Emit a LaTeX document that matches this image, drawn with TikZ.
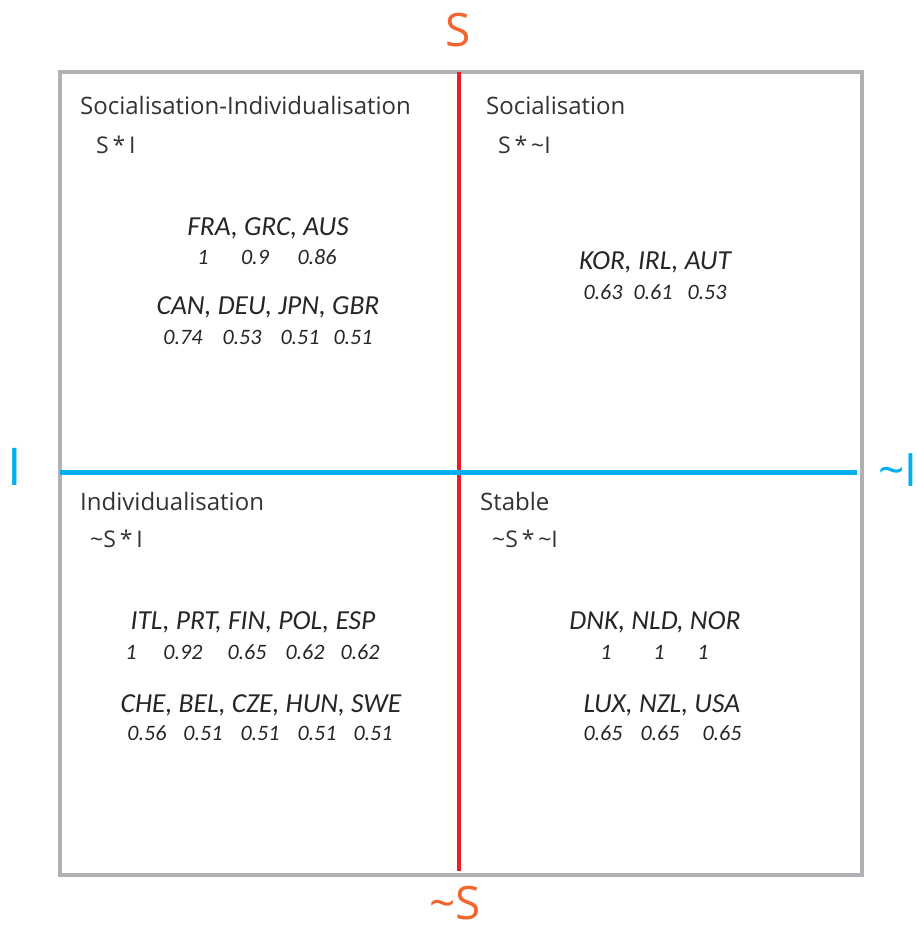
\documentclass[tikz,border=0pt]{standalone}
\usepackage{fontspec}
\setmainfont{Carlito}
\newfontfamily\headfont{Open Sans}
\definecolor{framegray}{HTML}{B0B0B5}
\definecolor{axisred}{HTML}{EE1C25}
\definecolor{axisblue}{HTML}{00B0F0}
\definecolor{labelorange}{HTML}{F26531}
\definecolor{textdark}{HTML}{262626}
\definecolor{headdark}{HTML}{333333}
\begin{document}
\begin{tikzpicture}[x=1pt,y=-1pt,
  quadtitle/.style={anchor=west, inner sep=0pt, text=headdark, font=\headfont\fontsize{24}{28}\selectfont},
  quadformula/.style={anchor=west, inner sep=0pt, text=headdark, font=\headfont\fontsize{23}{26}\selectfont},
  countries/.style={inner sep=0pt, text=textdark, font=\itshape\fontsize{27.5}{31}\selectfont},
  score/.style={inner sep=0pt, text=textdark, font=\itshape\fontsize{22}{25}\selectfont},
  axislabel/.style={inner sep=0pt, font=\headfont\fontsize{46}{52}\selectfont}]
\useasboundingbox (0,0) rectangle (916,929);
\fill[white] (0,0) rectangle (916,929);

% outer frame
\node[draw=framegray, line width=4pt, minimum width=802pt, minimum height=803pt,
      anchor=north west, inner sep=0pt] (frame) at (58,70) {};

% axes
\coordinate (stop) at (459,72);
\coordinate (sbot) at (459,871);
\coordinate (ileft) at (60,472);
\coordinate (iright) at (857,472);
\draw[axisred, line width=4.5pt] (stop) -- (sbot);
\draw[axisblue, line width=5pt] (ileft) -- (iright);

% axis labels
\node[axislabel, text=labelorange] (labS) at (458,30) {S};
\node[axislabel, text=labelorange] (labnotS) at (455,903) {\textasciitilde S};
\node[axislabel, text=axisblue, font=\headfont\fontsize{52}{56}\selectfont] (labI) at (15,467) {I};
\node[axislabel, text=axisblue, anchor=west] (labnotI) at (878,470) {\textasciitilde I};

% quadrant titles
\node[quadtitle] (t1) at (80,105) {Socialisation-Individualisation};
\node[quadformula] (f1) at (96,145) {S\,*\,I};
\node[quadtitle] (t2) at (486,105) {Socialisation};
\node[quadformula] (f2) at (498,145) {S\,*\,\textasciitilde I};
\node[quadtitle] (t3) at (80,501) {Individualisation};
\node[quadformula] (f3) at (90,539) {\textasciitilde S\,*\,I};
\node[quadtitle] (t4) at (480,501) {Stable};
\node[quadformula] (f4) at (492,539) {\textasciitilde S\,*\,\textasciitilde I};

% top left
\node[countries] (c1) at (268,228) {FRA, GRC, AUS};
\node[score] (s11) at (203,257) {1};
\node[score] (s12) at (255,257) {0.9};
\node[score] (s13) at (317,257) {0.86};
\node[countries] (c2) at (268,307) {CAN, DEU, JPN, GBR};
\node[score] (s21) at (183,337) {0.74};
\node[score] (s22) at (242,337) {0.53};
\node[score] (s23) at (300,337) {0.51};
\node[score] (s24) at (353,337) {0.51};

% top right
\node[countries] (c3) at (655,262) {KOR, IRL, AUT};
\node[score] (s31) at (603,292) {0.63};
\node[score] (s32) at (653,292) {0.61};
\node[score] (s33) at (707,292) {0.53};

% bottom left
\node[countries] (c4) at (253,622) {ITL, PRT, FIN, POL, ESP};
\node[score] (s41) at (131,652) {1};
\node[score] (s42) at (183,652) {0.92};
\node[score] (s43) at (247,652) {0.65};
\node[score] (s44) at (305,652) {0.62};
\node[score] (s45) at (360,652) {0.62};
\node[countries] (c5) at (261,705) {CHE, BEL, CZE, HUN, SWE};
\node[score] (s51) at (147,733) {0.56};
\node[score] (s52) at (203,733) {0.51};
\node[score] (s53) at (260,733) {0.51};
\node[score] (s54) at (317,733) {0.51};
\node[score] (s55) at (373,733) {0.51};

% bottom right
\node[countries] (c6) at (655,622) {DNK, NLD, NOR};
\node[score] (s61) at (606,652) {1};
\node[score] (s62) at (659,652) {1};
\node[score] (s63) at (703,652) {1};
\node[countries] (c7) at (662,705) {LUX, NZL, USA};
\node[score] (s71) at (603,733) {0.65};
\node[score] (s72) at (660,733) {0.65};
\node[score] (s73) at (722,733) {0.65};
\end{tikzpicture}
\end{document}
